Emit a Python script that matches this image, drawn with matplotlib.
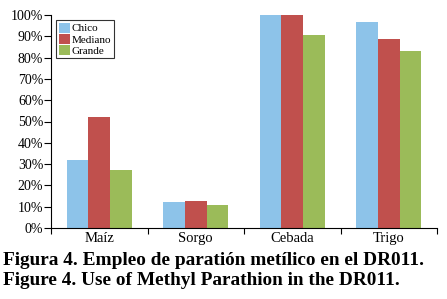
import numpy as np
import matplotlib.pyplot as plt
from matplotlib.ticker import FixedLocator, NullFormatter

# data (percent)
cultivos = ['Maíz', 'Sorgo', 'Cebada', 'Trigo']
chico = [31.8, 12.2, 100.0, 96.5]
mediano = [52.0, 12.7, 100.0, 88.7]
grande = [27.2, 10.9, 90.5, 83.2]
series = ['Chico', 'Mediano', 'Grande']
colores = ['#8DC3E9', '#C0504D', '#9BBB59']

plt.rcParams['font.family'] = ['Liberation Serif', 'DejaVu Serif']

fig = plt.figure(figsize=(4.47, 2.99), dpi=100)
ax = fig.add_axes([51 / 447, 71 / 299, 386 / 447, 213 / 299])

x = np.arange(len(cultivos))
w = 0.223
for i, (vals, name, c) in enumerate(zip([chico, mediano, grande], series, colores)):
    ax.bar(x + (i - 1) * w, vals, width=w, color=c, label=name)

ax.set_xlim(-0.5, len(cultivos) - 0.5)
ax.set_ylim(0, 100)
ax.set_yticks(np.arange(0, 101, 10))
ax.set_yticklabels([f'{v}%' for v in range(0, 101, 10)], fontsize=10)

# category boundaries as major ticks, names centred as minor
ax.xaxis.set_major_locator(FixedLocator(np.arange(-0.5, len(cultivos), 1.0)))
ax.xaxis.set_major_formatter(NullFormatter())
ax.set_xticks(x, minor=True)
ax.set_xticklabels(cultivos, minor=True, fontsize=10.5)
ax.tick_params(axis='x', which='minor', length=0, pad=3)
ax.tick_params(axis='x', which='major', length=4, direction='out', width=0.8)
ax.tick_params(axis='y', length=5, direction='out', width=0.8, pad=0.5)

for s in ['top', 'right']:
    ax.spines[s].set_visible(False)

leg = ax.legend(loc='upper left', bbox_to_anchor=(0.008, 0.985), fontsize=8,
                frameon=True, fancybox=False, edgecolor='black',
                handlelength=1.0, handleheight=1.0, handletextpad=0.2,
                borderpad=0.2, labelspacing=0.05, borderaxespad=0.2)
leg.get_frame().set_linewidth(0.8)

fig.text(3 / 447, 1 - 265 / 299, 'Figura 4. Empleo de paratión metílico en el DR011.',
         fontsize=13.9, fontweight='bold', va='baseline', ha='left')
fig.text(3 / 447, 1 - 285 / 299, 'Figure 4. Use of Methyl Parathion in the DR011.',
         fontsize=13.9, fontweight='bold', va='baseline', ha='left')

fig.savefig('out.png', dpi=100)
